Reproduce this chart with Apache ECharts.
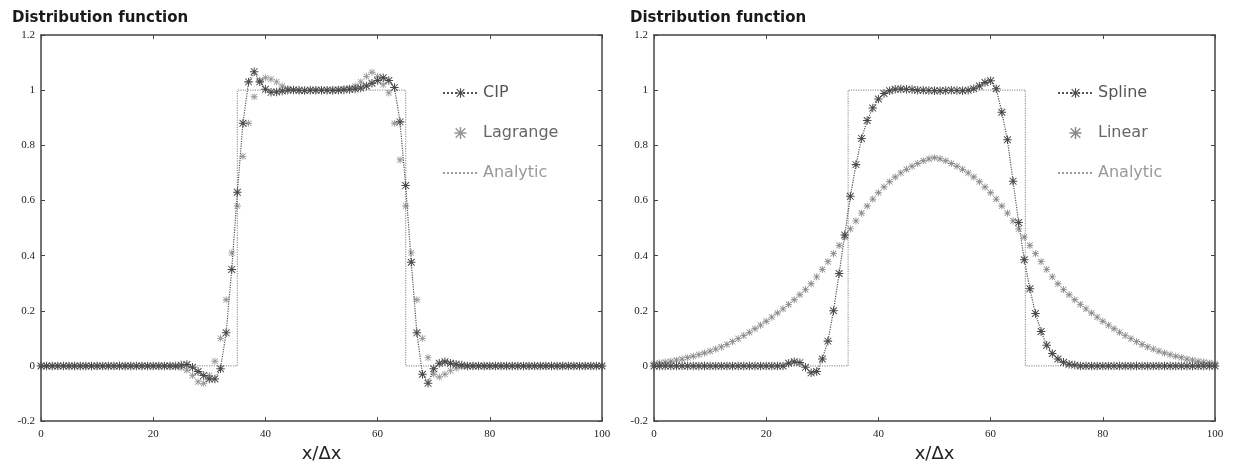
<!DOCTYPE html>
<html><head><meta charset="utf-8">
<script src="https://cdn.jsdelivr.net/npm/echarts@6/dist/echarts.min.js"></script>
<style>html,body{margin:0;padding:0;background:#fff}#c{width:1233px;height:468px}</style>
</head><body><div id="c"></div>
<script>
// ---- data ----
const titleText = 'Distribution function';
const xAxisName = 'x/\u0394x';
const xTicks = [0, 20, 40, 60, 80, 100];
const yTicks = [-0.2, 0, 0.2, 0.4, 0.6, 0.8, 1, 1.2];

// left panel (value at grid point i = 0..100)
const cip = [
  0,0,0,0,0,0,0,0,0,0,
  0,0,0,0,0,0,0,0,0,0,
  0,0,0,0,0,0.003,0.005,-0.005,-0.02,-0.035,
  -0.047,-0.047,-0.01,0.12,0.35,0.63,0.88,1.03,1.067,1.03,
  1.003,0.992,0.993,0.997,1.0,1.001,1.0,0.999,1.0,1.0,
  1.0,1.0,0.999,1.0,1.001,1.002,1.004,1.008,1.015,1.025,
  1.035,1.045,1.035,1.01,0.885,0.654,0.376,0.12,-0.03,-0.063,
  -0.01,0.01,0.015,0.01,0.006,0.003,0,0,0,0,
  0,0,0,0,0,0,0,0,0,0,
  0,0,0,0,0,0,0,0,0,0,0
];
const lagrange = [
  0,0,0,0,0,0,0,0,0,0,
  0,0,0,0,0,0,0,0,0,0,
  0,0,0,0,-0.002,-0.006,-0.015,-0.035,-0.058,-0.063,
  -0.035,0.017,0.1,0.24,0.41,0.58,0.76,0.88,0.976,1.035,
  1.045,1.04,1.03,1.015,1.005,1.0,0.998,0.998,1.0,1.0,
  1.0,1.0,1.002,1.003,1.005,1.008,1.015,1.03,1.05,1.065,
  1.05,1.02,0.99,0.88,0.747,0.58,0.41,0.24,0.1,0.03,
  -0.03,-0.04,-0.03,-0.017,-0.008,-0.003,0,0,0,0,
  0,0,0,0,0,0,0,0,0,0,
  0,0,0,0,0,0,0,0,0,0,0
];
const analyticLeftX = [0, 35, 35, 65, 65, 100];
const analyticLeftY = [0, 0, 1, 1, 0, 0];

// right panel
const spline = [
  0,0,0,0,0,0,0,0,0,0,
  0,0,0,0,0,0,0,0,0,0,
  0,0,0,0,0.01,0.015,0.012,-0.005,-0.025,-0.02,
  0.025,0.09,0.2,0.335,0.475,0.615,0.73,0.825,0.89,0.935,
  0.968,0.988,0.998,1.003,1.004,1.003,1.002,1.0,1.0,0.999,
  0.998,0.998,0.999,1.0,0.999,0.998,1.0,1.005,1.015,1.028,
  1.034,1.005,0.92,0.82,0.67,0.52,0.385,0.28,0.19,0.125,
  0.075,0.045,0.025,0.013,0.006,0.003,0,0,0,0,
  0,0,0,0,0,0,0,0,0,0,
  0,0,0,0,0,0,0,0,0,0,0
];
const linear = [
  0.008,0.011,0.014,0.017,0.021,0.025,0.030,0.035,0.041,0.047,
  0.054,0.061,0.069,0.078,0.088,0.099,0.110,0.122,0.135,0.148,
  0.162,0.177,0.192,0.207,0.223,0.240,0.258,0.277,0.298,0.323,
  0.350,0.378,0.407,0.437,0.467,0.497,0.526,0.554,0.580,0.605,
  0.628,0.649,0.668,0.685,0.700,0.713,0.724,0.734,0.744,0.751,
  0.755,0.751,0.744,0.734,0.724,0.713,0.700,0.685,0.668,0.649,
  0.628,0.605,0.580,0.554,0.526,0.497,0.467,0.437,0.407,0.378,
  0.350,0.323,0.298,0.277,0.258,0.240,0.223,0.207,0.192,0.177,
  0.162,0.148,0.135,0.122,0.110,0.099,0.088,0.078,0.069,0.061,
  0.054,0.047,0.041,0.035,0.030,0.025,0.021,0.017,0.014,0.011,0.008
];
const analyticRightX = [0, 34.6, 34.6, 66.2, 66.2, 100];
const analyticRightY = [0, 0, 1, 1, 0, 0];

// ---- chart ----
const STAR = 'path://M4.4,0L5.6,0L5.6,10L4.4,10Z M0,4.4L10,4.4L10,5.6L0,5.6Z M1.4,0.6L9.4,8.6L8.6,9.4L0.6,1.4Z M8.6,0.6L9.4,1.4L1.4,9.4L0.6,8.6Z';
const pts = arr => arr.map((v, i) => [i, v]);
const pair = (xs, ys) => xs.map((x, i) => [x, ys[i]]);
const AX = '#444';
const labelFont = {fontFamily: 'Liberation Serif', fontSize: 11, color: '#222'};

function xAx(grid, top) {
  return {
    gridIndex: grid, type: 'value', position: top ? 'top' : 'bottom',
    min: xTicks[0], max: xTicks[xTicks.length - 1], interval: xTicks[1] - xTicks[0],
    axisLine: {show: true, onZero: false, lineStyle: {color: AX, width: 1.5}},
    axisTick: {show: true, inside: true, length: 4, lineStyle: {color: AX}},
    axisLabel: top ? {show: false} : Object.assign({margin: 8}, labelFont),
    splitLine: {show: false},
    name: top ? '' : xAxisName, nameLocation: 'middle', nameGap: 8,
    nameTextStyle: {fontFamily: 'DejaVu Sans', fontSize: 18, color: '#222', verticalAlign: 'top'}
  };
}
function yAx(grid, right) {
  return {
    gridIndex: grid, type: 'value', position: right ? 'right' : 'left',
    min: yTicks[0], max: yTicks[yTicks.length - 1], interval: 0.2,
    axisLine: {show: true, onZero: false, lineStyle: {color: AX, width: 1.5}},
    axisTick: {show: true, inside: true, length: 4, lineStyle: {color: AX}},
    axisLabel: right ? {show: false} : Object.assign({margin: 6, formatter: v => String(+v.toFixed(1))}, labelFont),
    splitLine: {show: false}
  };
}
function legendOf(left, items) {
  return {
    left: left, top: 80, orient: 'vertical', itemWidth: 35, itemHeight: 12, itemGap: 24,
    textStyle: {fontFamily: 'DejaVu Sans', fontSize: 16},
    data: items
  };
}
function titleOf(left) {
  return {text: titleText, left: left, top: 11, padding: 0,
    textStyle: {fontFamily: 'DejaVu Sans', fontSize: 15, fontWeight: 'bold', color: '#1a1a1a'}};
}
function analyticSeries(grid, xs, ys) {
  return {name: 'Analytic', type: 'line', xAxisIndex: grid * 2, yAxisIndex: grid * 2,
    data: pair(xs, ys), symbol: 'none', z: 1,
    lineStyle: {type: 'dotted', width: 1.2, color: '#9a9a9a'}, itemStyle: {color: '#9a9a9a'}};
}
const analyticLegend = {name: 'Analytic', textStyle: {color: '#999'}, itemStyle: {opacity: 0}};

const chart = echarts.init(document.getElementById('c'));
chart.setOption({
  animation: false,
  backgroundColor: '#fff',
  title: [titleOf(12), titleOf(630)],
  grid: [
    {left: 41, top: 35, width: 561, height: 403},
    {left: 654, top: 35, width: 561, height: 403}
  ],
  xAxis: [xAx(0, false), xAx(0, true), xAx(1, false), xAx(1, true)],
  yAxis: [yAx(0, false), yAx(0, true), yAx(1, false), yAx(1, true)],
  legend: [
    legendOf(437, [{name: 'CIP', textStyle: {color: '#555'}}, {name: 'Lagrange', textStyle: {color: '#666'}}, analyticLegend]),
    legendOf(1052, [{name: 'Spline', textStyle: {color: '#555'}}, {name: 'Linear', textStyle: {color: '#666'}}, analyticLegend])
  ],
  series: [
    analyticSeries(0, analyticLeftX, analyticLeftY),
    {name: 'CIP', type: 'line', xAxisIndex: 0, yAxisIndex: 0, data: pts(cip), z: 3,
      symbol: STAR, symbolSize: 8.5, showAllSymbol: true,
      lineStyle: {type: 'dotted', width: 1.2, color: '#555'}, itemStyle: {color: '#4a4a4a'}},
    {name: 'Lagrange', type: 'scatter', xAxisIndex: 0, yAxisIndex: 0, data: pts(lagrange), z: 2,
      symbol: STAR, symbolSize: 7, itemStyle: {color: '#7a7a7a'}},
    analyticSeries(1, analyticRightX, analyticRightY),
    {name: 'Spline', type: 'line', xAxisIndex: 2, yAxisIndex: 2, data: pts(spline), z: 3,
      symbol: STAR, symbolSize: 8.5, showAllSymbol: true,
      lineStyle: {type: 'dotted', width: 1.2, color: '#555'}, itemStyle: {color: '#4a4a4a'}},
    {name: 'Linear', type: 'scatter', xAxisIndex: 2, yAxisIndex: 2, data: pts(linear), z: 2,
      symbol: STAR, symbolSize: 7, itemStyle: {color: '#6a6a6a'}}
  ]
});
</script>
</body></html>
